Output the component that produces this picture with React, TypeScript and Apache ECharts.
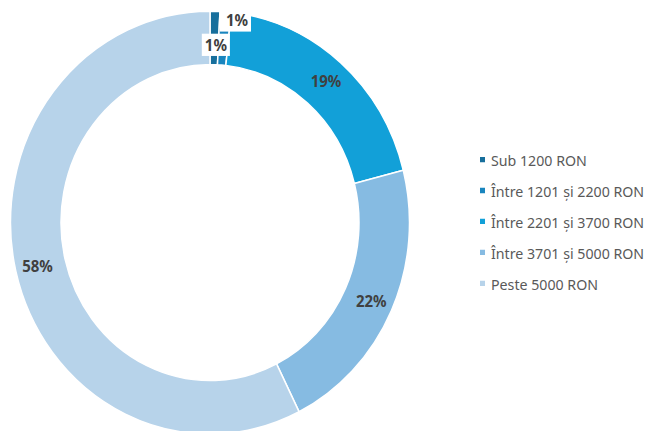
import React, { useEffect, useRef } from "react";
import * as echarts from "echarts";

const categories = [
  "Sub 1200 RON",
  "Între 1201 și 2200 RON",
  "Între 2201 și 3700 RON",
  "Între 3701 și 5000 RON",
  "Peste 5000 RON",
];
const values = [0.8, 0.9, 19.4, 21.7, 57.6];
const colors = ["#176f9c", "#1985be", "#12a0d8", "#86bbe2", "#b7d3ea"];
// label nudges for the two thin slices (px)
const labelOffsets: (number[] | null)[] = [[21, -14], [-8, 9], null, null, null];

const STRETCH = 1.06;
const W = 647;
const H = 431;

export default function App() {
  const ref = useRef<HTMLDivElement>(null);
  useEffect(() => {
    if (!ref.current) return;
    const chart = echarts.init(ref.current, null, { renderer: "svg" });
    const data = categories.map((name, i) => {
      const item: any = { name, value: values[i], itemStyle: { color: colors[i] } };
      const off = labelOffsets[i];
      if (off) {
        item.label = {
          offset: off,
          backgroundColor: "#ffffff",
          padding: i === 0 ? [4, 3, 3, 6] : [3, 3, 3, 3],
        };
      }
      return item;
    });
    chart.setOption({
      animation: false,
      backgroundColor: "#ffffff",
      legend: {
        orient: "vertical",
        left: 473,
        top: 137.5,
        icon: "rect",
        itemWidth: 7,
        itemHeight: 7,
        itemGap: 13.2,
        data: categories,
        textStyle: {
          fontFamily: "Noto Sans",
          fontSize: 14.2,
          lineHeight: 16,
          color: "#595959",
        },
      },
      series: [
        {
          type: "pie",
          center: [210, 210],
          radius: [149, 199.5],
          startAngle: 90,
          clockwise: true,
          avoidLabelOverlap: false,
          silent: true,
          itemStyle: { borderColor: "#ffffff", borderWidth: 1.5 },
          label: {
            show: true,
            position: "inside",
            fontFamily: "Noto Sans",
            fontWeight: "bold",
            fontSize: 15,
            color: "#404040",
            formatter: (p: any) => Math.round(p.value) + "%",
          },
          labelLine: { show: false },
          data,
        },
      ],
    });
    return () => chart.dispose();
  }, []);
  return (
    <div
      style={{
        position: "fixed",
        left: 0,
        top: 0,
        width: W,
        height: H,
        overflow: "hidden",
        background: "#fff",
      }}
    >
      <div
        ref={ref}
        style={{
          width: W,
          height: H / STRETCH,
          transform: `scaleY(${STRETCH})`,
          transformOrigin: "0 0",
        }}
      />
    </div>
  );
}
